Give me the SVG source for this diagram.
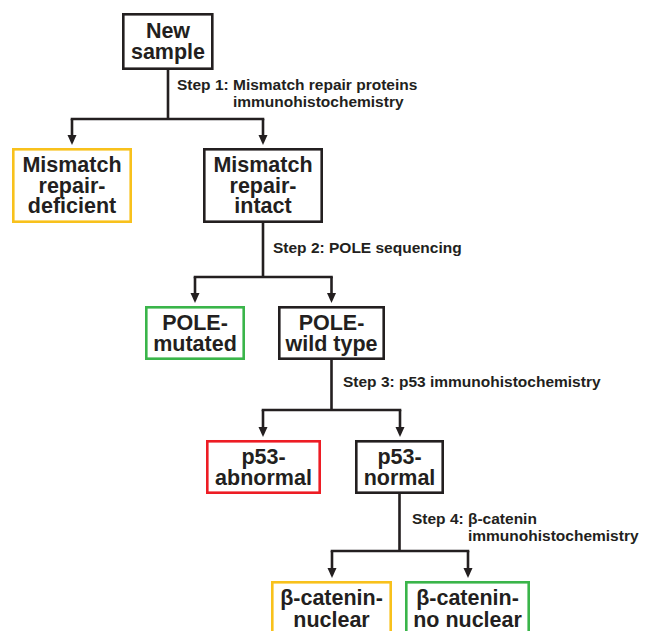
<svg xmlns="http://www.w3.org/2000/svg" width="646" height="631" viewBox="0 0 646 631">
<style>
.box{fill:#fff;stroke-width:2.6}
.k{stroke:#231f20}
.y{stroke:#f8c11c}
.g{stroke:#3ab54a}
.r{stroke:#ed1c24}
.nt{font-family:"Liberation Sans",Arial,sans-serif;font-weight:bold;font-size:21.5px;fill:#231f20;text-anchor:middle}
.st{font-family:"Liberation Sans",Arial,sans-serif;font-weight:bold;font-size:15.5px;fill:#231f20}
.c{fill:none;stroke:#231f20;stroke-width:2.6}
</style>
<rect width="646" height="631" fill="#fff"/>
<g id="connectors">
<path class="c" d="M168,69 V119 M70.7,119 H264.3"/>
<path class="c" d="M72,119 V136"/>
<path class="c" d="M263,119 V136"/>
<path class="c" d="M263,222 V277 M193.7,277 H332.8"/>
<path class="c" d="M195,277 V294"/>
<path class="c" d="M331.5,277 V294"/>
<path class="c" d="M331.5,359 V410 M261.7,410 H401.3"/>
<path class="c" d="M263,410 V428"/>
<path class="c" d="M400,410 V428"/>
<path class="c" d="M399.5,493 V551 M330.7,551 H469.3"/>
<path class="c" d="M332,551 V569"/>
<path class="c" d="M468,551 V569"/>
<g fill="#231f20">
<path d="M67.5,135 H76.5 L72,145 Z"/>
<path d="M258.5,135 H267.5 L263,145 Z"/>
<path d="M190.5,293 H199.5 L195,303 Z"/>
<path d="M327,293 H336 L331.5,303 Z"/>
<path d="M258.5,427 H267.5 L263,437 Z"/>
<path d="M395.5,427 H404.5 L400,437 Z"/>
<path d="M327.5,568 H336.5 L332,578 Z"/>
<path d="M463.5,568 H472.5 L468,578 Z"/>
</g>
</g>
<g id="n-new">
<rect class="box k" x="123.3" y="14.3" width="89" height="54.4"/>
<text class="nt" x="168" y="37.5">New</text>
<text class="nt" x="168" y="58.5">sample</text>
</g>
<g id="step1">
<text class="st" x="177" y="89.5">Step 1: Mismatch repair proteins</text>
<text class="st" x="233" y="106.5">immunohistochemistry</text>
</g>
<g id="n-mmrd">
<rect class="box y" x="13.3" y="149.3" width="117.4" height="72.4"/>
<text class="nt" x="72" y="172">Mismatch</text>
<text class="nt" x="72" y="192.5">repair-</text>
<text class="nt" x="72" y="213">deficient</text>
</g>
<g id="n-mmri">
<rect class="box k" x="204.3" y="149.3" width="117.4" height="72.4"/>
<text class="nt" x="263" y="172">Mismatch</text>
<text class="nt" x="263" y="192.5">repair-</text>
<text class="nt" x="263" y="213">intact</text>
</g>
<g id="step2">
<text class="st" x="273" y="253">Step 2: POLE sequencing</text>
</g>
<g id="n-polem">
<rect class="box g" x="146.3" y="307.3" width="97.4" height="51.4"/>
<text class="nt" x="195" y="329.5">POLE-</text>
<text class="nt" x="195" y="350.5">mutated</text>
</g>
<g id="n-polew">
<rect class="box k" x="279.3" y="307.3" width="104.4" height="51.4"/>
<text class="nt" x="331.5" y="329.5">POLE-</text>
<text class="nt" x="331.5" y="350.5">wild type</text>
</g>
<g id="step3">
<text class="st" x="343" y="387">Step 3: p53 immunohistochemistry</text>
</g>
<g id="n-p53a">
<rect class="box r" x="207.3" y="441.3" width="112.4" height="51.4"/>
<text class="nt" x="263.5" y="463.5">p53-</text>
<text class="nt" x="263.5" y="484.5">abnormal</text>
</g>
<g id="n-p53n">
<rect class="box k" x="356.3" y="441.3" width="86.4" height="51.4"/>
<text class="nt" x="399.5" y="463.5">p53-</text>
<text class="nt" x="399.5" y="484.5">normal</text>
</g>
<g id="step4">
<text class="st" x="412" y="524">Step 4: β-catenin</text>
<text class="st" x="468" y="541">immunohistochemistry</text>
</g>
<g id="n-bcn">
<rect class="box y" x="272.3" y="582.3" width="118.4" height="70"/>
<text class="nt" x="331.5" y="605">β-catenin-</text>
<text class="nt" x="331.5" y="626.5">nuclear</text>
</g>
<g id="n-bcnn">
<rect class="box g" x="406.3" y="582.3" width="122.4" height="70"/>
<text class="nt" x="467.5" y="605">β-catenin-</text>
<text class="nt" x="467.5" y="626.5">no nuclear</text>
</g>
</svg>
